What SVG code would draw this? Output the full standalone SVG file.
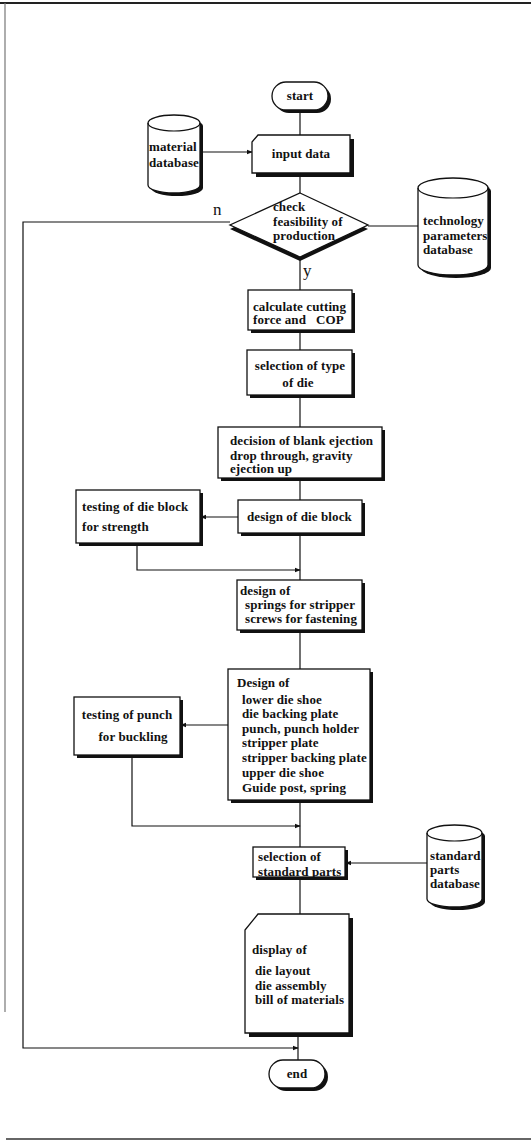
<svg xmlns="http://www.w3.org/2000/svg" width="531" height="1140" viewBox="0 0 531 1140">
<style>
.sh{fill:#111;stroke:none}
.nd{fill:#fff;stroke:#111;stroke-width:1.3}
.ln{fill:none;stroke:#111;stroke-width:1.2}
.t{font-family:"Liberation Serif",serif;font-weight:bold;font-size:13px;letter-spacing:0.1px;fill:#111;white-space:pre}
.c{text-anchor:middle}
.lb{font-family:"Liberation Serif",serif;font-size:17px;fill:#111}
</style>
<defs>
<marker id="ar" viewBox="0 0 8 8" refX="7" refY="4" markerWidth="6" markerHeight="6" orient="auto" markerUnits="userSpaceOnUse">
<path d="M0,1 L8,4 L0,7 Z" fill="#111"/>
</marker>
</defs>
<rect width="531" height="1140" fill="#fff"/>
<g id="frame">
<line x1="0" y1="3" x2="531" y2="3" stroke="#222" stroke-width="2"/>
<line x1="5" y1="3" x2="5" y2="1012" stroke="#777" stroke-width="1.2"/>
<line x1="6" y1="1139" x2="531" y2="1139" stroke="#333" stroke-width="1.5"/>
</g>
<g id="connectors">
<path class="ln" d="M300,110 V135"/>
<path class="ln" d="M200,152 H252" marker-end="url(#ar)"/>
<path class="ln" d="M300,173 V193"/>
<path class="ln" d="M368,226 H418"/>
<path class="ln" d="M230,222 H23 V1048 H298" marker-end="url(#ar)"/>
<path class="ln" d="M300,259 V290"/>
<path class="ln" d="M300,330 V350"/>
<path class="ln" d="M300,395 V427"/>
<path class="ln" d="M300,478 V500"/>
<path class="ln" d="M238,517 H201" marker-end="url(#ar)"/>
<path class="ln" d="M300,533 V580"/>
<path class="ln" d="M137,543 V570 H300" marker-end="url(#ar)"/>
<path class="ln" d="M300,630 V669"/>
<path class="ln" d="M228,725 H181" marker-end="url(#ar)"/>
<path class="ln" d="M132,755 V826 H300" marker-end="url(#ar)"/>
<path class="ln" d="M300,800 V847"/>
<path class="ln" d="M427,863 H346" marker-end="url(#ar)"/>
<path class="ln" d="M300,877 V914"/>
<path class="ln" d="M298,1033 V1060"/>
<text class="lb" x="213" y="215">n</text>
<text class="lb" x="303" y="276">y</text>
</g>
<g id="start">
<rect class="sh" x="275" y="85" width="56" height="28" rx="14"/>
<rect class="nd" x="272" y="82" width="56" height="28" rx="14"/>
<text class="t c" x="300" y="100">start</text>
</g>
<g id="input">
<path class="sh" d="M262,139 H354 V177 H256 V146 Z"/>
<path class="nd" d="M258,135 H350 V173 H252 V142 Z"/>
<text class="t c" x="301" y="158">input data</text>
</g>
<g id="material-db">
<path class="sh" d="M151,126 A26,8 0 0 1 203,126 V188 A26,8 0 0 1 151,188 Z"/>
<path class="nd" d="M148,123 A26,8 0 0 1 200,123 V185 A26,8 0 0 1 148,185 Z"/>
<path class="ln" d="M148,123 A26,8 0 0 0 200,123"/>
<text class="t" x="149" y="151" letter-spacing="0">material</text>
<text class="t" x="149" y="167" letter-spacing="0">database</text>
</g>
<g id="check">
<polygon class="sh" points="300,197 368,229 300,261 230,229"/>
<polygon class="nd" points="300,193 368,225 300,257 230,225"/>
<text class="t" x="273" y="211">check</text>
<text class="t" x="273" y="226">feasibility of</text>
<text class="t" x="273" y="240">production</text>
</g>
<g id="tech-db">
<path class="sh" d="M421,191 A35,10 0 0 1 491,191 V268 A35,10 0 0 1 421,268 Z"/>
<path class="nd" d="M418,188 A35,10 0 0 1 488,188 V265 A35,10 0 0 1 418,265 Z"/>
<path class="ln" d="M418,188 A35,10 0 0 0 488,188"/>
<text class="t" x="423" y="225">technology</text>
<text class="t" x="423" y="240">parameters</text>
<text class="t" x="423" y="254">database</text>
</g>
<g id="calc">
<rect class="sh" x="251" y="293" width="104" height="40"/>
<rect class="nd" x="248" y="290" width="104" height="40"/>
<text class="t" x="253" y="311">calculate cutting</text>
<text class="t" x="253" y="324">force and   COP</text>
</g>
<g id="sel-type">
<rect class="sh" x="250" y="353" width="105" height="45"/>
<rect class="nd" x="247" y="350" width="105" height="45"/>
<text class="t c" x="300" y="370">selection of type</text>
<text class="t c" x="298" y="387">of die</text>
</g>
<g id="decision">
<rect class="sh" x="221" y="430" width="164" height="51"/>
<rect class="nd" x="218" y="427" width="164" height="51"/>
<text class="t" x="230" y="445">decision of blank ejection</text>
<text class="t" x="230" y="460">drop through, gravity</text>
<text class="t" x="230" y="473">ejection up</text>
</g>
<g id="die-block">
<rect class="sh" x="241" y="503" width="124" height="33"/>
<rect class="nd" x="238" y="500" width="124" height="33"/>
<text class="t" x="247" y="521">design of die block</text>
</g>
<g id="test-die">
<rect class="sh" x="79" y="493" width="124" height="53"/>
<rect class="nd" x="76" y="490" width="124" height="53"/>
<text class="t" x="82" y="511">testing of die block</text>
<text class="t" x="82" y="531">for strength</text>
</g>
<g id="springs">
<rect class="sh" x="240" y="583" width="125" height="50"/>
<rect class="nd" x="237" y="580" width="125" height="50"/>
<text class="t" x="240" y="595">design of</text>
<text class="t" x="245" y="609">springs for stripper</text>
<text class="t" x="245" y="623">screws for fastening</text>
</g>
<g id="design">
<rect class="sh" x="231" y="672" width="142" height="131"/>
<rect class="nd" x="228" y="669" width="142" height="131"/>
<text class="t" x="237" y="687">Design of</text>
<text class="t" x="242" y="704">lower die shoe</text>
<text class="t" x="242" y="718">die backing plate</text>
<text class="t" x="242" y="733">punch, punch holder</text>
<text class="t" x="242" y="747">stripper plate</text>
<text class="t" x="242" y="762">stripper backing plate</text>
<text class="t" x="242" y="777">upper die shoe</text>
<text class="t" x="242" y="792">Guide post, spring</text>
</g>
<g id="test-punch">
<rect class="sh" x="77" y="700" width="106" height="58"/>
<rect class="nd" x="74" y="697" width="106" height="58"/>
<text class="t c" x="127" y="719">testing of punch</text>
<text class="t c" x="133" y="741">for buckling</text>
</g>
<g id="sel-std">
<rect class="sh" x="256" y="850" width="92" height="30"/>
<rect class="nd" x="253" y="847" width="92" height="30"/>
<text class="t" x="258" y="861">selection of</text>
<text class="t" x="258" y="876">standard parts</text>
</g>
<g id="std-db">
<path class="sh" d="M430,836 A27.5,8 0 0 1 485,836 V902 A27.5,8 0 0 1 430,902 Z"/>
<path class="nd" d="M427,833 A27.5,8 0 0 1 482,833 V899 A27.5,8 0 0 1 427,899 Z"/>
<path class="ln" d="M427,833 A27.5,8 0 0 0 482,833"/>
<text class="t" x="430" y="860">standard</text>
<text class="t" x="430" y="874">parts</text>
<text class="t" x="430" y="888">database</text>
</g>
<g id="display">
<path class="sh" d="M262,918 H353 V1037 H249 V934 Z"/>
<path class="nd" d="M258,914 H349 V1033 H245 V930 Z"/>
<text class="t" x="252" y="954">display of</text>
<text class="t" x="255" y="975">die layout</text>
<text class="t" x="255" y="990">die assembly</text>
<text class="t" x="255" y="1004">bill of materials</text>
</g>
<g id="end">
<rect class="sh" x="272" y="1063" width="56" height="28" rx="14"/>
<rect class="nd" x="269" y="1060" width="56" height="28" rx="14"/>
<text class="t c" x="297" y="1078">end</text>
</g>
</svg>
